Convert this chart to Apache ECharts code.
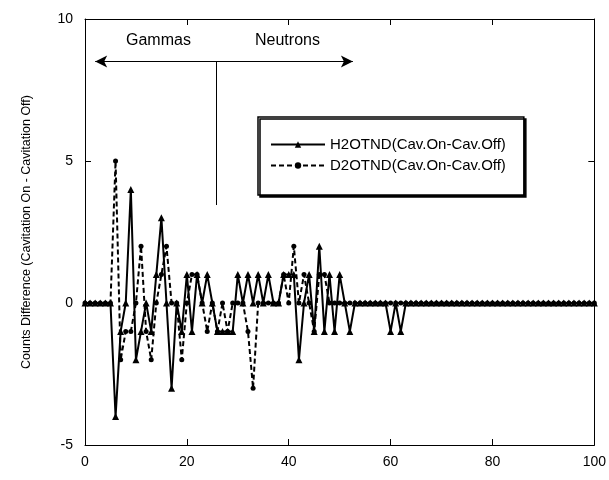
<!DOCTYPE html>
<html><head><meta charset="utf-8">
<script src="https://cdn.jsdelivr.net/npm/echarts@6/dist/echarts.min.js"></script>
<style>html,body{margin:0;padding:0;background:#fff}#c{width:609px;height:480px}</style>
</head><body><div id="c"></div>
<script>
const channels = Array.from({length: 101}, (_, i) => i);
// H2OTND (Cav.On - Cav.Off), channels 0..62, rest zero
const h2oHead = [0,0,0,0,0,0,-4,-1,0,4,-2,-1,0,-1,1,3,0,-3,0,-1,1,-1,1,0,1,0,-1,-1,-1,-1,1,0,1,0,1,0,1,0,0,1,1,1,-2,0,1,-1,2,-1,1,-1,1,0,-1,0,0,0,0,0,0,0,-1,0,-1];
// D2OTND (Cav.On - Cav.Off)
const d2oHead = [0,0,0,0,0,0,5,-2,-1,-1,0,2,-1,-2,0,1,2,0,0,-2,0,1,1,0,-1,0,-1,0,-1,0,0,0,-1,-3,0,0,0,0,0,1,0,2,0,1,0,-1,1,1,0,0,0,0];
const h2o = channels.map(i => i < h2oHead.length ? h2oHead[i] : 0);
const d2o = channels.map(i => i < d2oHead.length ? d2oHead[i] : 0);
const xTicks = [0,20,40,60,80,100];
const yTicks = [-5,0,5,10];
const seriesNames = ['H2OTND(Cav.On-Cav.Off)','D2OTND(Cav.On-Cav.Off)'];

const chart = echarts.init(document.getElementById('c'));
const font = 'Liberation Sans, Arial, sans-serif';
const axisCommon = {
  type: 'value',
  axisLine: {show: true, onZero: false, lineStyle: {color: '#000', width: 1}},
  axisTick: {show: true, inside: true, length: 6, lineStyle: {color: '#000'}},
  splitLine: {show: false}
};
chart.setOption({
  animation: false,
  backgroundColor: '#fff',
  grid: {left: 85, right: 11, top: 19, bottom: 35},
  xAxis: [
    Object.assign({}, axisCommon, {min: 0, max: 100, interval: 20,
      axisLabel: {color: '#000', fontSize: 14, fontFamily: font, margin: 10}}),
    Object.assign({}, axisCommon, {position: 'top', min: 0, max: 100, interval: 20, axisLabel: {show: false}})
  ],
  yAxis: [
    Object.assign({}, axisCommon, {min: -5, max: 10, interval: 5,
      name: 'Counts Difference (Cavitation On - Cavitation Off)', nameLocation: 'middle', nameGap: 52,
      nameTextStyle: {color: '#000', fontSize: 12.5, fontFamily: font},
      axisLabel: {color: '#000', fontSize: 14, fontFamily: font, margin: 12}}),
    Object.assign({}, axisCommon, {position: 'right', min: -5, max: 10, interval: 5, axisLabel: {show: false}})
  ],
  legend: {
    orient: 'vertical', left: 258, top: 117,
    padding: [20, 18, 22, 12], itemGap: 6, itemWidth: 54, itemHeight: 8,
    backgroundColor: '#fff', borderColor: '#000', borderWidth: 1.5,
    shadowColor: '#000', shadowBlur: 0, shadowOffsetX: 2, shadowOffsetY: 2,
    textStyle: {color: '#000', fontSize: 15, fontFamily: font},
    data: seriesNames
  },
  graphic: [
    {type: 'text', left: 126, top: 33, style: {text: 'Gammas', fill: '#000', font: '16px ' + font}},
    {type: 'text', left: 255, top: 33, style: {text: 'Neutrons', fill: '#000', font: '16px ' + font}}
  ],
  series: [
    {
      name: seriesNames[0], type: 'line', data: channels.map((x, i) => [x, h2o[i]]),
      symbol: 'triangle', symbolSize: 7, showAllSymbol: true,
      lineStyle: {color: '#000', width: 2}, itemStyle: {color: '#000'},
      markLine: {
        silent: true, symbol: ['none', 'none'],
        lineStyle: {color: '#000', width: 1, type: 'solid'}, label: {show: false},
        data: [
          [{coord: [2, 8.5], symbol: 'arrow', symbolSize: [9, 12]}, {coord: [52.6, 8.5], symbol: 'arrow', symbolSize: [9, 12]}],
          [{coord: [25.8, 8.5]}, {coord: [25.8, 3.45]}]
        ]
      }
    },
    {
      name: seriesNames[1], type: 'line', data: channels.map((x, i) => [x, d2o[i]]),
      symbol: 'circle', symbolSize: 5, showAllSymbol: true,
      lineStyle: {color: '#000', width: 2, type: [5, 3]}, itemStyle: {color: '#000'}
    }
  ]
});
</script></body></html>
